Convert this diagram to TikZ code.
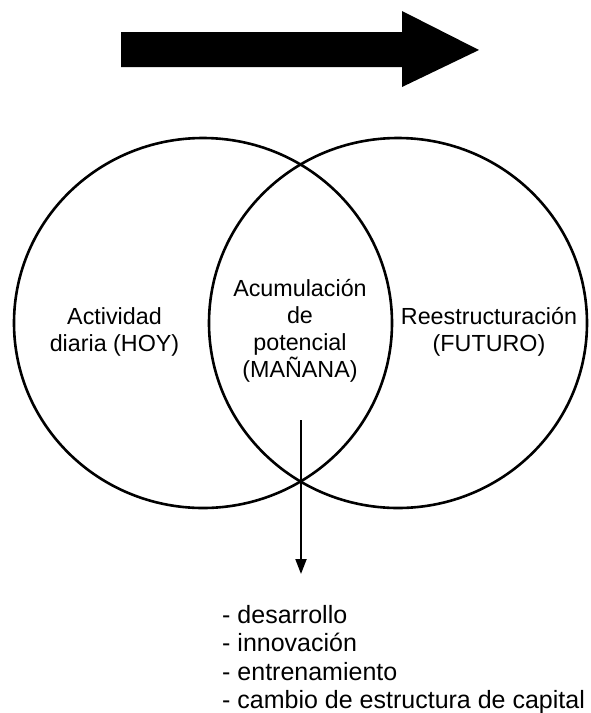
\documentclass[tikz,border=0pt]{standalone}
\usepackage{fontspec}
\setmainfont{Liberation Sans}
\usetikzlibrary{arrows.meta}
\tikzset{
  ring/.style={draw=black, line width=2.6pt},
  label/.style={anchor=base, font=\fontsize{23.3}{28}\selectfont, inner sep=0pt},
  listtext/.style={anchor=base west, font=\fontsize{25}{28}\selectfont, inner sep=0pt},
  bigarrow/.style={fill=black},
  downarrow/.style={draw=black, line width=2pt, -{Triangle[length=15pt,width=11pt]}}
}
\begin{document}
\begin{tikzpicture}[x=1pt,y=-1pt]
\useasboundingbox (0,0) rectangle (590,713);
% big arrow
\fill[bigarrow] (121,32) -- (402,32) -- (402,11) -- (479,50) -- (402,87) -- (402,67) -- (121,67) -- cycle;
% circles
\draw[ring] (203,323) ellipse [x radius=189, y radius=185];
\draw[ring] (398,323) ellipse [x radius=189, y radius=185];
% labels
\node[label] (hoy1) at (114.5,324) {Actividad};
\node[label] (hoy2) at (114.5,351) {diaria (HOY)};
\node[label] (man1) at (300,296) {Acumulación};
\node[label] (man2) at (300,323.5) {de};
\node[label] (man3) at (300,350) {potencial};
\node[label] (man4) at (300,377) {(MAÑANA)};
\node[label] (fut1) at (489,324) {Reestructuración};
\node[label] (fut2) at (489,351) {(FUTURO)};
% down arrow
\coordinate (astart) at (301,420);
\coordinate (aend) at (301,574);
\draw[downarrow] (astart) -- (aend);
% list
\node[listtext] (l1) at (222,623) {- desarrollo};
\node[listtext] (l2) at (222,651.5) {- innovación};
\node[listtext] (l3) at (222,680) {- entrenamiento};
\node[listtext] (l4) at (222,708) {- cambio de estructura de capital};
\end{tikzpicture}
\end{document}
